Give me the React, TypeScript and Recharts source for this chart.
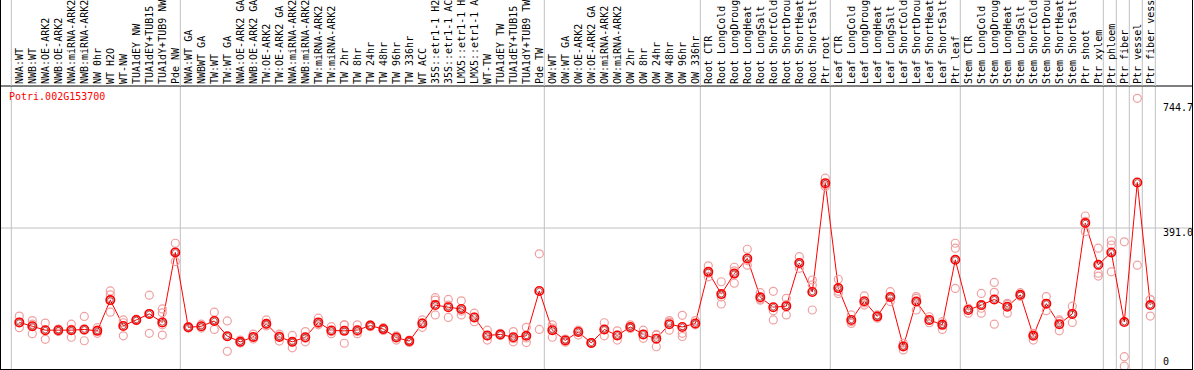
import { ComposedChart, Line, XAxis, YAxis, ReferenceLine } from 'recharts'

const geneId = 'Potri.002G153700'

const categories = [
  'NWA:WT', 'NWB:WT', 'NWA:OE-ARK2', 'NWB:OE-ARK2', 'NWA:miRNA-ARK2', 'NWB:miRNA-ARK2', 'NW 0hr', 'WT H2O', 'WT-NW',
  'TUA1dEY NW', 'TUA1dEY+TUB15', 'TUA1dY+TUB9 NW', 'Pde NW',
  'NWA:WT GA', 'NWBWT GA', 'TW:WT', 'TW:WT GA', 'NWA:OE-ARK2 GA', 'NWB:OE-ARK2 GA', 'TW:OE-ARK2', 'TW:OE-ARK2 GA',
  'NWA:miRNA-ARK2', 'NWB:miRNA-ARK2', 'TW:miRNA-ARK2', 'TW:miRNA-ARK2', 'TW 2hr', 'TW 8hr', 'TW 24hr', 'TW 48hr',
  'TW 96hr', 'TW 336hr', 'WT ACC', '35S::etr1-1 H2', '35S::etr1-1 AC', 'LMX5::etr1-1 H', 'LMX5::etr1-1 A', 'WT-TW',
  'TUA1dEY TW', 'TUA1dEY+TUB15', 'TUA1dY+TUB9 TW', 'Pde TW',
  'OW:WT', 'OW:WT GA', 'OW:OE-ARK2', 'OW:OE-ARK2 GA', 'OW:miRNA-ARK2', 'OW:miRNA-ARK2', 'OW 2hr', 'OW 8hr', 'OW 24hr',
  'OW 48hr', 'OW 96hr', 'OW 336hr',
  'Root CTR', 'Root LongCold', 'Root LongDroug', 'Root LongHeat', 'Root LongSalt', 'Root ShortCold', 'Root ShortDrou',
  'Root ShortHeat', 'Root ShortSalt', 'Ptr root',
  'Leaf CTR', 'Leaf LongCold', 'Leaf LongDroug', 'Leaf LongHeat', 'Leaf LongSalt', 'Leaf ShortCold', 'Leaf ShortDrou',
  'Leaf ShortHeat', 'Leaf ShortSalt', 'Ptr leaf',
  'Stem CTR', 'Stem LongCold', 'Stem LongDroug', 'Stem LongHeat', 'Stem LongSalt', 'Stem ShortCold', 'Stem ShortDrou',
  'Stem ShortHeat', 'Stem ShortSalt', 'Ptr shoot',
  'Ptr xylem', 'Ptr phloem', 'Ptr fiber', 'Ptr vessel', 'Ptr fiber vess',
]

// mean expression per sample
const means = [
  124, 113, 102, 102, 102, 104, 100, 187, 114, 131, 148, 124, 322,
  110, 113, 128, 85, 69, 83, 120, 83, 69, 82, 124, 101, 100, 102, 115, 105, 81, 71, 121, 173, 167, 162, 138, 87, 90, 82, 86, 213,
  102, 73, 97, 66, 104, 87, 111, 90, 78, 119, 111, 121,
  267, 204, 262, 305, 195, 167, 170, 292, 210, 518,
  221, 131, 184, 141, 196, 56, 183, 131, 117, 301,
  159, 173, 189, 168, 202, 86, 177, 119, 148, 405,
  287, 322, 125, 520, 173,
]

// individual replicates
const replicates = [
  [142, 124, 109], [129, 119, 92], [122, 102, 76], [104, 98, 105], [119, 104, 82], [141, 102, 72], [109, 102, 93],
  [213, 202, 153], [131, 123, 86], [133, 129, 130], [201, 148, 93], [162, 151, 117, 88], [348, 296, 323],
  [112, 110, 108], [119, 112, 108], [153, 129, 104], [128, 84, 42], [74, 67, 66], [91, 82, 77], [131, 114, 118],
  [86, 71, 91], [87, 52, 68], [98, 69, 79], [136, 117, 120], [112, 98, 92], [117, 65, 117], [117, 98, 92],
  [117, 112, 115], [109, 101, 106], [86, 74, 82], [74, 67, 72], [131, 110, 123], [194, 187, 145], [189, 138, 173],
  [185, 145, 156], [150, 126, 139], [102, 74, 86], [90, 87, 93], [98, 69, 78], [110, 67, 80], [318, 104],
  [117, 82, 108], [77, 68, 75], [102, 88, 100], [66, 65, 66], [123, 86, 104], [100, 74, 88], [117, 107, 109],
  [102, 79, 90], [88, 55, 90], [129, 102, 125], [144, 93, 84], [129, 117, 119],
  [284, 253, 263], [239, 176, 196], [280, 235, 270], [331, 286, 299], [208, 187, 190], [212, 131, 157],
  [192, 145, 174], [310, 277, 289], [244, 230, 159], [532, 513, 508],
  [246, 206, 212], [145, 121, 126], [199, 173, 179], [145, 136, 143], [211, 183, 194], [65, 46, 58],
  [197, 159, 192], [140, 123, 129], [126, 104, 120], [348, 334, 220],
  [164, 150, 163], [206, 150, 164], [237, 209, 119], [178, 150, 175], [208, 199, 198], [93, 74, 89],
  [197, 157, 177], [131, 100, 127], [170, 124, 148], [425, 381, 410],
  [334, 263, 255], [355, 343, 267], [352, 27, 0], [758, 286], [189, 142, 188],
]

// sample index after which a group separator is drawn
const groupBreaks = [12, 40, 52, 62, 72, 83, 84, 85, 86, 87]
const yTicks = [0, 391, 744.7]
const gridValue = 391

const repKeys = ['r0', 'r1', 'r2', 'r3']

const chartData = categories.map((label, i) => {
  const row: any = { i, label, mean: means[i] }
  repKeys.forEach((k, j) => {
    row[k] = replicates[i][j] ?? null
  })
  return row
})

const FONT = '"DejaVu Sans Mono", monospace'
const GRID = '#c0c0c0'

function HeaderTick(props: any) {
  const { x, payload } = props
  const idx = payload.value
  return (
    <g>
      {idx === 0 && <line x1={x - 8} x2={x - 8} y1={0} y2={86} stroke={GRID} />}
      {groupBreaks.includes(idx) && <line x1={x + 5} x2={x + 5} y1={0} y2={86} stroke={GRID} />}
      <text
        x={x}
        y={84}
        transform={`rotate(-90, ${x}, 84)`}
        textAnchor="start"
        dominantBaseline="central"
        fontFamily={FONT}
        fontSize={10}
        fill="#000"
      >
        {categories[idx]}
      </text>
    </g>
  )
}

const valueLabel = (v: number) => (props: any) => {
  const y = props.viewBox?.y ?? 0
  return (
    <text x={1162} y={v === 0 ? y - 1 : y + 7.5} fontFamily={FONT} fontSize={10} fill="#000">
      {v === 0 ? '0' : v.toFixed(1)}
    </text>
  )
}

const renderRepDot = (props: any) => {
  const { cx, cy, value, index, dataKey } = props
  if (value == null || cy == null) return <g key={`${dataKey}-${index}`} />
  return <circle key={`${dataKey}-${index}`} cx={cx} cy={cy} r={4} fill="none" stroke="#f0a0a0" strokeWidth={1.2} />
}

const renderMeanDot = (props: any) => {
  const { cx, cy, index } = props
  return (
    <g key={`mean-${index}`}>
      <circle cx={cx} cy={cy} r={4.2} fill="none" stroke="#ff0000" strokeWidth={1.6} />
      <circle cx={cx} cy={cy} r={2.8} fill="none" stroke="#700000" strokeWidth={0.6} />
    </g>
  )
}

export default function App() {
  return (
    <div style={{ position: 'relative', width: 1194, height: 370, background: '#fff' }}>
      <style>{'body{margin:0}'}</style>
      <div
        style={{
          position: 'absolute',
          left: 0,
          top: 0,
          width: 1193,
          height: 370,
          borderLeft: '1px solid #000',
          borderRight: '1px solid #000',
          borderBottom: '1px solid #000',
          boxSizing: 'border-box',
        }}
      >
        <ComposedChart width={1191} height={369} data={chartData} margin={{ top: 0, right: 0, bottom: 0, left: 0 }}>
          <XAxis
            dataKey="i"
            type="number"
            orientation="top"
            height={86}
            domain={[-1.4077, 90.208]}
            allowDataOverflow
            ticks={categories.map((_, i) => i)}
            interval={0}
            tickLine={false}
            axisLine={{ stroke: '#000' }}
            tick={(p: any) => <HeaderTick {...p} />}
          />
          <YAxis type="number" hide domain={[-7.9, 792.9]} allowDataOverflow />
          {yTicks.map((v) => (
            <ReferenceLine
              key={`y-${v}`}
              y={v}
              stroke={v === gridValue ? GRID : 'none'}
              label={valueLabel(v)}
            />
          ))}
          <ReferenceLine x={-8 / 13} stroke={GRID} />
          {groupBreaks.map((b) => (
            <ReferenceLine key={b} x={b + 5 / 13} stroke={GRID} />
          ))}
          {repKeys.map((k) => (
            <Line
              key={k}
              dataKey={k}
              stroke="none"
              dot={renderRepDot}
              activeDot={false}
              legendType="none"
              isAnimationActive={false}
            />
          ))}
          <Line
            dataKey="mean"
            stroke="#ff0000"
            strokeWidth={1}
            dot={renderMeanDot}
            activeDot={false}
            isAnimationActive={false}
          />
        </ComposedChart>
      </div>
      <div
        style={{
          position: 'absolute',
          left: 9,
          top: 91,
          fontFamily: FONT,
          fontSize: 10,
          lineHeight: '12px',
          color: '#ff0000',
        }}
      >
        {geneId}
      </div>
    </div>
  )
}
